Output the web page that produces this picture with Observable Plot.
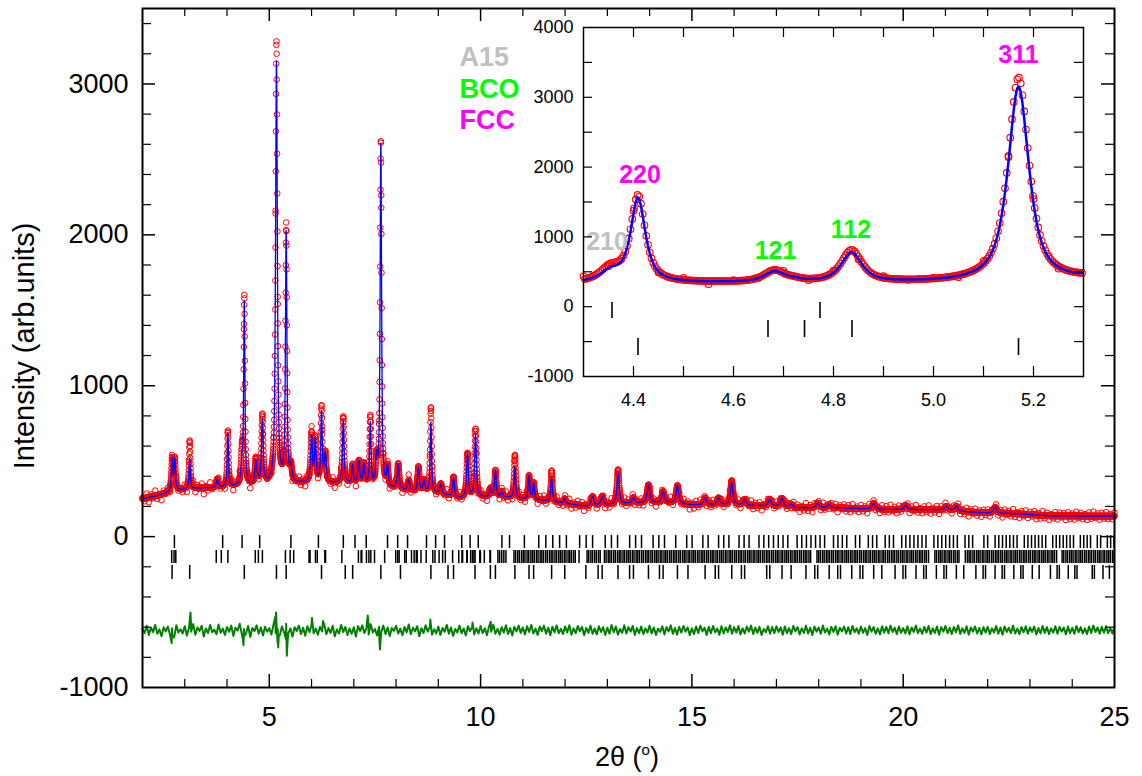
<!DOCTYPE html>
<html><head><meta charset="utf-8">
<script src="https://cdn.jsdelivr.net/npm/d3@7"></script>
<script src="https://cdn.jsdelivr.net/npm/@observablehq/plot@0.6"></script>
<style>
body{margin:0;background:#fff;}
#wrap{position:relative;width:1142px;height:776px;overflow:hidden;}
#wrap svg.inset{position:absolute;left:520px;top:10px;}
</style></head><body><div id="wrap"></div>
<script>
// ---------------- DATA ----------------
// smooth background level (2θ, intensity)
const bgX = [2.0,2.4,2.8,3.2,3.6,4.0,4.4,4.8,5.2,5.6,6.0,6.5,7.0,7.5,8.0,8.5,9.0,9.5,10.0,10.5,11.0,11.5,12.0,12.5,13.0,13.5,14.0,14.5,15.0,15.5,16.0,16.5,17.0,17.5,18.0,18.5,19.0,19.5,20.0,20.5,21.0,21.5,22.0,22.5,23.0,23.5,24.0,24.5,25.0];
const bgY = [250,275,305,318,322,328,335,338,342,350,355,352,350,325,315,295,285,255,262,262,250,238,220,200,210,220,225,225,210,210,210,205,200,190,190,190,185,180,180,178,178,164,156,154,146,137,137,136,136];

// peaks: position (2θ), calculated height, observed height (above background), FWHM (°)
const peakPos  = [2.700,2.765,3.117,3.770,4.020,4.354,4.409,4.682,4.722,4.836,5.170,5.400,5.512,6.000,6.090,6.236,6.325,6.750,6.973,7.120,7.240,7.390,7.540,7.640,7.798,8.050,8.300,8.530,8.660,8.824,9.060,9.360,9.690,9.880,10.240,10.351,10.505,10.812,11.146,11.255,11.681,11.992,12.650,12.877,13.252,13.617,13.972,14.319,14.658,15.313,15.631,15.943,16.248,16.843,17.133,17.348,17.977,18.249,19.302,20.057,21.023,21.258,22.174];
const peakCalc = [215,205,200,55,355,140,1205,150,25,420,2800,1660,95,300,280,460,190,410,120,150,135,410,170,2280,130,165,65,165,75,465,65,130,290,415,55,175,35,205,155,110,160,30,62,58,212,35,118,72,118,45,45,152,38,45,55,20,32,22,38,27,22,30,40];
const peakObs  = [215,210,320,55,370,190,1235,165,25,455,2930,1660,95,320,285,495,190,440,120,150,135,455,170,2295,130,165,65,165,75,565,65,130,290,450,55,175,35,285,155,110,205,30,62,58,228,35,118,72,118,45,45,160,38,45,55,20,32,22,38,27,22,30,40];
const peakFwhm = [0.040,0.040,0.035,0.050,0.035,0.050,0.035,0.050,0.040,0.050,0.050,0.040,0.050,0.050,0.045,0.040,0.050,0.045,0.040,0.050,0.050,0.040,0.050,0.040,0.045,0.050,0.050,0.050,0.050,0.040,0.050,0.045,0.050,0.050,0.050,0.045,0.050,0.045,0.045,0.045,0.045,0.050,0.070,0.070,0.060,0.070,0.070,0.070,0.070,0.080,0.080,0.070,0.080,0.080,0.090,0.090,0.090,0.090,0.090,0.090,0.090,0.090,0.090];

// difference curve (Yobs-Ycalc) read every 0.05° from 2θ = 2.00
const diffNoise = [
8,-19,29,-32,16,-13,35,-24,5,-40,19,-8,24,-29,13,-48,32,-16,6,-22,
26,-35,14,-10,40,-30,18,-5,29,-42,11,-19,34,-14,3,-27,38,-18,10,-32,
21,-11,30,-38,16,-3,43,-26,8,-21,27,-45,14,-6,32,-24,18,-35,22,-10,
13,-29,37,-19,6,-34,24,-14,42,-22,11,-43,19,-5,30,-26,16,-37,26,-13,
34,-21,10,-30,22,-8,38,-27,14,-18,29,-40,5,-22,35,-13,21,-32,11,-24,
19,-42,27,-6,32,-19,13,-29,40,-16,8,-35,22,-11,30,-26,18,-38,14,-5,
29,-22,10,-34,21,-14,37,-27,16,-8,26,-40,13,-19,32,-10,22,-30,6,-21,
24,-32,14,-11,35,-24,18,-38,8,-16,30,-21,11,-35,26,-6,19,-29,13,-22,
28,-20,12,-34,24,-10,36,-24,8,-30,20,-16,32,-26,14,-36,22,-8,30,-18,
18,-28,26,-12,34,-22,10,-32,24,-6,30,-24,16,-34,22,-14,32,-20,8,-26,
24,-16,32,-30,12,-20,28,-8,22,-34,14,-18,30,-24,10,-28,26,-12,20,-32,
16,-24,34,-14,24,-30,8,-18,32,-22,20,-10,28,-32,14,-20,24,-26,12,-16,
30,-22,18,-32,10,-12,26,-28,20,-8,32,-24,14,-30,22,-16,28,-10,18,-34,
12,-26,24,-18,30,-8,16,-32,22,-20,28,-14,10,-30,26,-22,18,-12,32,-24,
20,-16,28,-28,12,-22,24,-10,30,-26,16,-18,22,-32,8,-14,26,-24,20,-20,
26,-12,18,-30,24,-20,14,-26,28,-8,20,-28,12,-18,30,-22,16,-32,24,-10,
18,-24,30,-16,10,-28,22,-12,26,-30,16,-8,24,-22,20,-26,28,-14,12,-24,
24,-18,14,-32,28,-10,20,-24,12,-28,26,-16,22,-20,30,-12,16,-26,24,-18,
14,-22,26,-28,18,-12,30,-20,10,-24,22,-16,28,-26,12,-18,24,-30,20,-10,
28,-20,16,-26,22,-14,32,-24,12,-18,26,-30,18,-10,24,-22,14,-28,20,-16,
22,-26,12,-16,28,-24,18,-30,24,-12,16,-20,30,-22,10,-26,20,-14,26,-24,
18,-12,24,-28,14,-22,28,-18,20,-26,12,-16,26,-24,22,-10,18,-28,24,-20,
16,-24,28,-14,20,-22,12,-26,24,-18,30,-12,18,-24,22,-16,26,-20,14,-22,
24];
// sharp misfit features of the difference curve
const diffSpikeX = [2.69,2.71,3.12,3.135,3.15,4.375,4.39,4.405,5.145,5.16,5.175,5.195,5.21,5.225,5.395,5.415,5.43,5.445,6.01,6.025,6.27,7.31,7.33,7.35,7.605,7.62,7.635,8.81,9.81,10.24];
const diffSpikeY = [-85,-40,70,117,30,-60,-100,-40,90,117,20,-80,-115,-40,-60,-170,-90,-30,80,40,60,50,97,40,-70,-128,-60,70,50,55];
const diffOffset = -620;

// Bragg reflection positions (2θ) of the three phases
const a15Ticks = [2.755,3.897,4.357,4.773,5.512,6.163,6.752,7.028,7.294,7.798,8.038,8.272,8.720,8.936,9.147,9.554,9.752,9.945,10.505,10.685,11.036,11.377,11.544,11.708,11.870,12.030,12.344,12.498,12.650,12.949,13.096,13.241,13.527,13.668,13.808,14.082,14.218,14.352,14.617,14.877,15.005,15.259,15.384,15.632,15.754,15.876,16.116,16.235,16.353,16.587,16.702,16.817,16.931,17.044,17.157,17.269,17.490,17.600,17.710,17.818,17.926,18.033,18.140,18.351,18.456,18.560,18.664,18.870,18.972,19.175,19.275,19.375,19.574,19.672,19.770,19.965,20.062,20.158,20.254,20.349,20.445,20.539,20.727,20.820,20.913,21.006,21.098,21.189,21.281,21.463,21.553,21.643,21.910,21.999,22.175,22.262,22.350,22.437,22.523,22.609,22.695,22.866,22.951,23.036,23.120,23.204,23.288,23.372,23.538,23.621,23.703,23.786,23.867,23.949,24.030,24.192,24.273,24.353,24.433,24.593,24.672,24.831,24.909,24.987];
const bcoTicks = [2.691,2.747,2.788,3.745,3.865,4.020,4.669,4.742,4.837,5.382,5.494,5.577,5.940,5.966,6.093,6.136,6.314,6.332,6.717,7.109,7.173,7.189,7.299,7.357,7.403,7.490,7.730,7.992,8.040,8.073,8.204,8.241,8.365,8.428,8.478,8.500,8.590,8.713,8.869,8.921,9.018,9.102,9.165,9.338,9.484,9.560,9.575,9.675,9.683,9.765,9.808,9.843,9.870,9.981,9.996,10.088,10.223,10.234,
10.41,10.45,10.50,10.55,10.60,10.79,10.83,10.88,10.92,10.97,11.01,11.05,11.10,11.14,11.19,11.23,11.27,11.32,11.36,11.41,11.45,11.49,11.54,11.58,11.63,11.67,11.71,11.76,11.80,11.85,11.89,11.93,11.98,12.02,12.07,12.11,12.15,12.20,12.24,12.33,12.52,12.56,12.61,12.65,12.70,12.74,12.79,12.83,12.93,12.97,
13.02,13.06,13.10,13.15,13.19,13.24,13.28,13.32,13.37,13.41,13.46,13.50,13.54,13.59,13.63,13.68,13.72,13.76,13.81,13.85,13.90,13.94,13.98,14.03,14.07,14.12,14.16,14.20,14.25,14.29,14.34,14.38,14.42,14.47,14.51,14.56,14.60,14.64,14.69,14.73,14.78,14.82,14.86,14.91,14.95,15.00,15.04,15.08,15.13,15.17,15.22,15.26,15.30,15.35,15.39,15.44,15.48,15.52,15.57,15.61,15.66,15.70,15.74,15.79,15.83,15.88,15.92,15.96,16.01,16.05,16.10,16.14,16.18,16.23,16.27,16.32,16.36,16.40,16.45,16.49,16.54,16.58,16.62,16.67,16.71,16.76,16.80,16.84,16.89,16.93,16.98,17.02,17.06,17.11,17.15,17.20,17.24,17.28,17.33,17.37,17.42,17.46,17.50,17.55,17.59,17.64,17.68,17.72,17.77,17.81,
17.96,18.00,18.04,18.09,18.13,18.18,18.22,18.26,18.31,18.35,18.40,18.44,18.48,18.53,18.57,18.62,18.66,18.70,18.75,18.79,18.84,18.88,18.92,18.97,19.01,19.06,19.10,19.14,19.19,19.23,19.28,19.32,19.36,19.41,19.45,19.50,19.54,19.58,19.63,19.67,19.72,19.76,19.80,19.85,19.89,19.94,19.98,20.02,20.07,20.11,20.16,20.20,20.24,20.29,20.33,20.38,20.42,20.46,20.51,20.55,20.60,
20.75,20.79,20.84,20.88,20.92,20.97,21.01,21.06,21.10,21.14,21.19,21.23,21.28,21.32,21.47,21.52,21.56,21.60,21.65,21.69,21.74,21.78,21.82,21.87,21.91,21.96,22.00,22.04,22.09,22.13,22.18,22.22,22.26,22.31,22.35,22.40,22.44,22.48,22.53,22.57,22.62,22.66,22.70,22.75,22.79,22.84,22.88,22.92,22.97,23.01,23.06,23.10,23.14,23.19,23.23,23.28,23.32,23.36,23.41,23.45,23.50,23.54,23.58,23.63,
23.76,23.80,23.85,23.89,23.94,23.98,24.02,24.07,24.11,24.16,24.20,24.24,24.29,24.33,24.38,24.42,24.46,24.51,24.55,24.60,24.64,24.68,24.73,24.77,24.82,24.86,24.90,24.95,24.99];
const fccTicks = [2.700,3.117,4.409,5.170,5.400,6.236,6.797,6.973,7.640,8.104,8.824,9.229,9.360,9.868,10.232,10.351,10.812,11.146,11.255,11.681,11.992,12.491,12.781,12.877,13.252,13.526,13.617,13.972,14.233,14.319,14.658,14.907,15.313,15.552,15.631,15.943,16.172,16.248,16.770,16.843,17.133,17.348,17.699,17.908,17.977,18.249,18.451,18.517,18.783,18.979,19.044,19.302,19.494,19.808,19.995,20.057,20.303,20.485,20.545,20.785,20.964,21.023,21.258,21.433,21.720,21.891,21.948,22.174,22.341,22.397,22.618,22.783,22.837,23.055,23.217,23.484,23.642,23.695,23.906,24.061,24.113,24.473,24.524,24.728,24.879];

const phaseNames  = ["A15","BCO","FCC"];
const phaseColors = ["#c0c0c0","#00ff00","#ff00ff"];

// inset Miller-index labels: text, 2θ, label level, phase index
const hklText  = ["210","220","121","112","311"];
const hklX     = [4.347,4.413,4.684,4.835,5.170];
const hklY     = [920,1880,805,1092,3599];
const hklPhase = [0,2,1,1,2];

// axes
const mainXTickLabels = [5,10,15,20,25];
const mainYTickLabels = [-1000,0,1000,2000,3000];
const mainXMajor = [5,10,15,20];
const mainXMinor = [3,4,6,7,8,9,11,12,13,14,16,17,18,19,21,22,23,24];
const mainYMajor = [0,1000,2000,3000];
const mainYMinor = [-800,-600,-400,-200,200,400,600,800,1200,1400,1600,1800,2200,2400,2600,2800,3200,3400];
const insetXTickLabels = [4.4,4.6,4.8,5.0,5.2];
const insetYTickLabels = [-1000,0,1000,2000,3000,4000];
const insetXTicks = [4.4,4.5,4.6,4.7,4.8,4.9,5.0,5.1,5.2];
const insetYTicks = [-500,0,500,1000,1500,2000,2500,3000,3500];

// ---------------- PROFILE ----------------
const ETA = 0.8;
const bg = d3.scaleLinear().domain(bgX).range(bgY);
function profile(x, heights) {
  let y = bg(x);
  for (let i = 0; i < peakPos.length; i++) {
    const d = x - peakPos[i];
    if (Math.abs(d) > 3) continue;
    const u = 2 * d / peakFwhm[i];
    y += heights[i] * (ETA / (1 + u * u) + (1 - ETA) * Math.exp(-Math.LN2 * u * u));
  }
  return y;
}
const STEP = 0.0035;
const mainData = d3.range(2, 25.0001, STEP).map(x => ({x, obs: profile(x, peakObs), calc: profile(x, peakCalc)}));
// observed points at the positions where the difference was read: Yobs = Ycalc + (Yobs - Ycalc)
const scatterData = diffNoise.map((v, i) => { const x = 2 + i * 0.05; return {x, obs: profile(x, peakObs) + v}; });
const insetData = mainData.filter(d => d.x >= 4.3 && d.x <= 5.3);
const insetScatter = scatterData.filter(d => d.x >= 4.3 && d.x <= 5.3);
const diffData = diffNoise.map((v, i) => ({x: 2 + i * 0.05, y: diffOffset + v}))
  .concat(diffSpikeX.map((x, i) => ({x, y: diffOffset + diffSpikeY[i]})))
  .sort((a, b) => a.x - b.x);

const FONT = "Liberation Sans, Arial, Helvetica, sans-serif";
const fmtInt = d => String(d);

// ---------------- MAIN PLOT ----------------
const W = 1142, H = 776, mL = 142, mR = 28, mT = 8, mB = 89;
const pxPerX = (W - mL - mR) / 23, pxPerY = (H - mT - mB) / 4500;
const rowY = [[-79, 7], [-178, -92], [-284, -191]];
const tickLists = [a15Ticks, bcoTicks, fccTicks];
const lenX = px => px / pxPerY;   // vertical tick length in data units
const lenY = px => px / pxPerX;   // horizontal tick length in data units

const main = Plot.plot({
  width: W, height: H, marginLeft: mL, marginRight: mR, marginTop: mT, marginBottom: mB,
  style: {fontFamily: FONT, fontSize: "27px", background: "white", color: "black"},
  x: {domain: [2, 25], ticks: mainXTickLabels, tickSize: 0, tickPadding: 19, tickFormat: fmtInt, label: null},
  y: {domain: [-1000, 3500], ticks: mainYTickLabels, tickSize: 0, tickPadding: 14, tickFormat: fmtInt, label: null},
  marks: [
    Plot.dot(scatterData, {x: "x", y: "obs", r: 2.8, stroke: "#ff0000", strokeWidth: 1, fill: "none"}),
    Plot.dot(mainData, {x: "x", y: "obs", r: 2.8, stroke: "#ff0000", strokeWidth: 1, fill: "none"}),
    Plot.line(mainData, {x: "x", y: "calc", stroke: "#0000ff", strokeWidth: 1.3}),
    Plot.line(diffData, {x: "x", y: "y", stroke: "#008000", strokeWidth: 2}),
    ...tickLists.map((list, i) => Plot.ruleX(list, {x: d => d, y1: rowY[i][0], y2: rowY[i][1], stroke: "black", strokeWidth: 1.5})),
    // axis tick marks, pointing inward on all four sides
    Plot.ruleX(mainXMajor, {x: d => d, y1: -1000, y2: -1000 + lenX(13), stroke: "black", strokeWidth: 1.5}),
    Plot.ruleX(mainXMinor, {x: d => d, y1: -1000, y2: -1000 + lenX(8), stroke: "black", strokeWidth: 1.2}),
    Plot.ruleX(mainXMajor, {x: d => d, y1: 3500, y2: 3500 - lenX(13), stroke: "black", strokeWidth: 1.5}),
    Plot.ruleX(mainXMinor, {x: d => d, y1: 3500, y2: 3500 - lenX(8), stroke: "black", strokeWidth: 1.2}),
    Plot.ruleY(mainYMajor, {y: d => d, x1: 2, x2: 2 + lenY(13), stroke: "black", strokeWidth: 1.5}),
    Plot.ruleY(mainYMinor, {y: d => d, x1: 2, x2: 2 + lenY(9), stroke: "black", strokeWidth: 1.2}),
    Plot.ruleY(mainYMajor, {y: d => d, x1: 25, x2: 25 - lenY(13), stroke: "black", strokeWidth: 1.5}),
    Plot.ruleY(mainYMinor, {y: d => d, x1: 25, x2: 25 - lenY(9), stroke: "black", strokeWidth: 1.2}),
    ...phaseNames.map((p, i) => Plot.text([p], {frameAnchor: "top-left", text: d => d, dx: 317, dy: 38.4 + i * 31.5,
      textAnchor: "start", fill: phaseColors[i], fontSize: 27, fontWeight: "bold"})),
    Plot.frame({stroke: "black", strokeWidth: 2})
  ]
});

const svgM = d3.select(main);
svgM.append("text").attr("transform", "translate(34,346) rotate(-90)")
  .attr("text-anchor", "middle").attr("font-size", 29).attr("font-family", FONT).attr("fill", "black")
  .text("Intensity (arb.units)");
const xl = svgM.append("text").attr("x", 627).attr("y", 766).attr("text-anchor", "middle")
  .attr("font-size", 27).attr("font-family", FONT).attr("fill", "black");
xl.append("tspan").text("2θ (");
xl.append("tspan").attr("font-size", 15).attr("dy", -11).text("o");
xl.append("tspan").attr("dy", 11).text(")");

// ---------------- INSET ----------------
const iW = 580, iH = 410, iL = 63, iR = 17, iT = 17, iB = 44;
const ipxX = (iW - iL - iR) / 1.0, ipxY = (iH - iT - iB) / 5000;
const iRowY = [[-169, 60], [-441, -198], [-699, -456]];
const inRange = v => v >= 4.3 && v <= 5.3;
const inset = Plot.plot({
  width: iW, height: iH, marginLeft: iL, marginRight: iR, marginTop: iT, marginBottom: iB,
  style: {fontFamily: FONT, fontSize: "18px", background: "transparent", color: "black"},
  x: {domain: [4.3, 5.3], ticks: insetXTickLabels, tickSize: 0, tickPadding: 17, tickFormat: d3.format(".1f"), label: null},
  y: {domain: [-1000, 4000], ticks: insetYTickLabels, tickSize: 0, tickPadding: 10, tickFormat: fmtInt, label: null},
  marks: [
    Plot.frame({fill: "white"}),
    Plot.dot(insetScatter, {x: "x", y: "obs", r: 3.3, stroke: "#ff0000", strokeWidth: 1.1, fill: "none"}),
    Plot.dot(insetData, {x: "x", y: "obs", r: 3.3, stroke: "#ff0000", strokeWidth: 1.1, fill: "none"}),
    Plot.line(insetData, {x: "x", y: "calc", stroke: "#0000ff", strokeWidth: 2.5}),
    ...tickLists.map((list, i) => Plot.ruleX(list.filter(inRange), {x: d => d, y1: iRowY[i][0], y2: iRowY[i][1], stroke: "black", strokeWidth: 1.6})),
    Plot.text(hklText, {x: (d, i) => hklX[i], y: (d, i) => hklY[i], text: d => d, fill: (d, i) => phaseColors[hklPhase[i]],
      fontSize: 25, fontWeight: "bold", textAnchor: "middle"}),
    Plot.ruleX(insetXTicks, {x: d => d, y1: -1000, y2: -1000 + 10 / ipxY, stroke: "black", strokeWidth: 1.2}),
    Plot.ruleX(insetXTicks, {x: d => d, y1: 4000, y2: 4000 - 10 / ipxY, stroke: "black", strokeWidth: 1.2}),
    Plot.ruleY(insetYTicks, {y: d => d, x1: 4.3, x2: 4.3 + 9 / ipxX, stroke: "black", strokeWidth: 1.2}),
    Plot.ruleY(insetYTicks, {y: d => d, x1: 5.3, x2: 5.3 - 9 / ipxX, stroke: "black", strokeWidth: 1.2}),
    Plot.frame({stroke: "black", strokeWidth: 1.5})
  ]
});
inset.classList.add("inset");

const wrap = document.getElementById("wrap");
wrap.appendChild(main);
wrap.appendChild(inset);
</script></body></html>
